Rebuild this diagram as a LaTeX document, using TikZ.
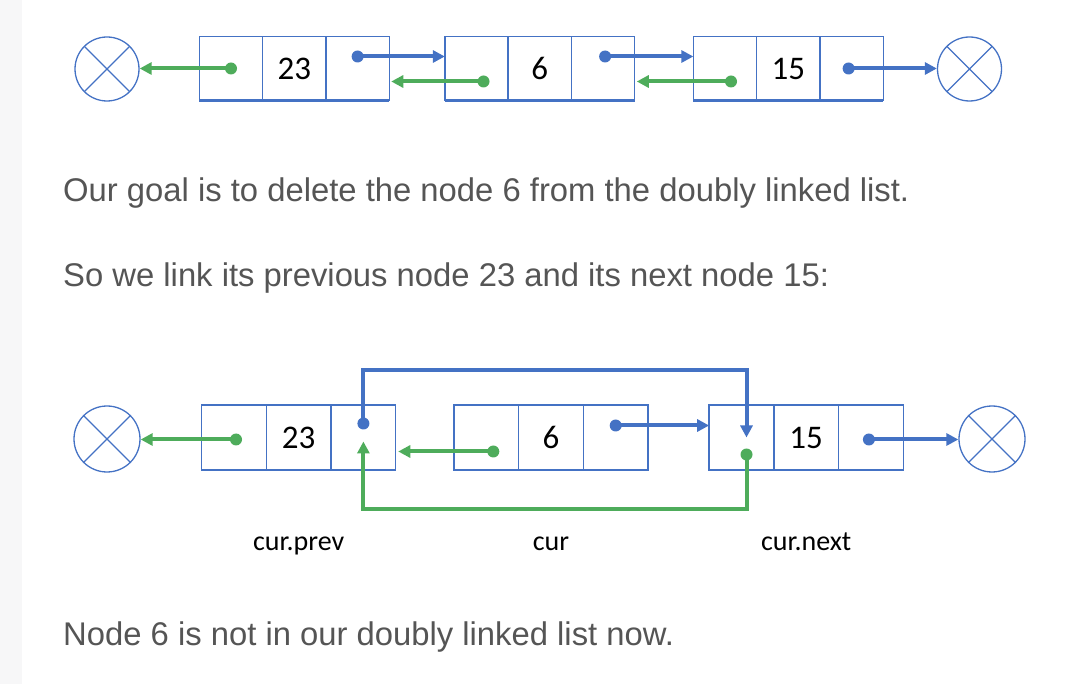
\documentclass[tikz,border=0pt]{standalone}
\usepackage{fontspec}
\setmainfont{Liberation Sans}
\newfontfamily\boxfont{Carlito}
\usetikzlibrary{positioning,arrows.meta}
\definecolor{listB}{HTML}{4472C4}
\definecolor{listG}{HTML}{4EAC5B}
\definecolor{textG}{HTML}{555555}
\definecolor{sideG}{HTML}{F7F7F8}
\begin{document}
\begin{tikzpicture}[x=1pt,y=-1pt,
  cell/.style={draw=listB,line width=1.4pt,minimum width=63.3pt,minimum height=64pt,inner sep=0pt,outer sep=0pt,font=\boxfont\fontsize{33}{33}\selectfont},
  nil/.style={circle,draw=listB,line width=1.3pt,minimum size=64pt,inner sep=0pt,path picture={\draw[listB,line width=1.3pt] (path picture bounding box.north west) -- (path picture bounding box.south east) (path picture bounding box.north east) -- (path picture bounding box.south west);}},
  dotB/.style={circle,fill=listB,minimum size=12pt,inner sep=0pt},
  dotG/.style={circle,fill=listG,minimum size=12pt,inner sep=0pt},
  nxt/.style={listB,line width=4pt,-{Triangle[length=12pt,width=12pt]}},
  prv/.style={listG,line width=4pt,-{Triangle[length=12pt,width=12pt]}},
  txt/.style={anchor=base west,inner sep=0pt,text=textG,font=\fontsize{32.8}{40}\selectfont},
  lbl/.style={anchor=base,inner sep=0pt,font=\boxfont\fontsize{28}{28}\selectfont}]
\useasboundingbox (0,0) rectangle (1090,684);
\fill[sideG] (0,0) rectangle (21.5,684);

\node[nil] (n0) at (107,69) {};
\node[cell] (a1) at (231,68.5) {};
\node[cell,right=0pt of a1] (a2) {23};
\node[cell,right=0pt of a2] (a3) {};
\node[cell] (b1) at (476.5,68.5) {};
\node[cell,right=0pt of b1] (b2) {6};
\node[cell,right=0pt of b2] (b3) {};
\node[cell] (c1) at (725,68.5) {};
\node[cell,right=0pt of c1] (c2) {15};
\node[cell,right=0pt of c2] (c3) {};
\node[nil] (n1) at (969.5,69) {};

\node[dotG] (a1p) at (a1.center) {};
\node[dotB] (a3n) at ([yshift=12pt]a3.center) {};
\node[dotG] (b1p) at ([xshift=7pt,yshift=-13pt]b1.center) {};
\node[dotB] (b3n) at ([xshift=2pt,yshift=12pt]b3.center) {};
\node[dotG] (c1p) at ([xshift=6pt,yshift=-13pt]c1.center) {};
\node[dotB] (c3n) at ([xshift=-3pt]c3.center) {};

\draw[prv] (a1p.center) -- (a1p.center -| n0.east);
\draw[nxt] (a3n.center) -- (a3n.center -| b1.west);
\draw[prv,shorten >=2pt] (b1p.center) -- (b1p.center -| a3.east);
\draw[nxt] (b3n.center) -- (b3n.center -| c1.west);
\draw[prv,shorten >=2pt] (c1p.center) -- (c1p.center -| b3.east);
\draw[nxt] (c3n.center) -- (c3n.center -| n1.west);

\node[txt] (t1) at (63,201.7) {Our goal is to delete the node 6 from the doubly linked list.};
\node[txt] (t2) at (63,286.7) {So we link its previous node 23 and its next node 15:};

\begin{scope}[cell/.append style={minimum width=64.7pt,minimum height=65pt}]
\node[nil,minimum size=66pt] (m0) at (107,439) {};
\node[cell] (p1) at (234,437.5) {};
\node[cell,right=0pt of p1] (p2) {23};
\node[cell,right=0pt of p2] (p3) {};
\node[cell] (q1) at (486.3,437.5) {};
\node[cell,right=0pt of q1] (q2) {6};
\node[cell,right=0pt of q2] (q3) {};
\node[cell] (r1) at (741.5,437.5) {};
\node[cell,right=0pt of r1] (r2) {15};
\node[cell,right=0pt of r2] (r3) {};
\node[nil,minimum size=66pt] (m1) at (992,439) {};
\end{scope}

\foreach \l/\r in {a1/a3,b1/b3,c1/c3,p1/p3,q1/q3,r1/r3}
  \draw[listB,line width=2.6pt] (\l.south west) -- (\r.south east);

\node[dotG] (p1p) at ([xshift=2pt,yshift=-2pt]p1.center) {};
\node[dotB] (p3n) at ([yshift=14pt]p3.center) {};
\node[dotG] (q1p) at ([xshift=7pt,yshift=-14pt]q1.center) {};
\node[dotB] (q3n) at ([yshift=12pt]q3.center) {};
\node[dotG] (r1p) at ([xshift=5pt,yshift=-17pt]r1.center) {};
\node[dotB] (r3n) at ([xshift=-2pt,yshift=-2pt]r3.center) {};

\coordinate (railT) at (0,370);
\coordinate (railB) at (0,509);
\coordinate (railL) at (0,550);

\draw[prv] (p1p.center) -- (p1p.center -| m0.east);
\draw[prv,shorten >=2.5pt] (q1p.center) -- (q1p.center -| p3.east);
\draw[nxt] (q3n.center) -- (q3n.center -| r1.west);
\draw[nxt] (r3n.center) -- (r3n.center -| m1.west);
\draw[nxt] (p3n.center) -- (p3n.center |- railT) -- (r1p.center |- railT) -- (r1p.center |- r1.center);
\draw[prv] (r1p.center) -- (r1p.center |- railB) -- (p3n.center |- railB) -- ([yshift=-4pt]p3.center);

\node[lbl] (lp) at (p2.center |- railL) {cur.prev};
\node[lbl] (lc) at (q2.center |- railL) {cur};
\node[lbl] (ln) at (r2.center |- railL) {cur.next};

\node[txt] (t3) at (63,645) {Node 6 is not in our doubly linked list now.};
\end{tikzpicture}
\end{document}
